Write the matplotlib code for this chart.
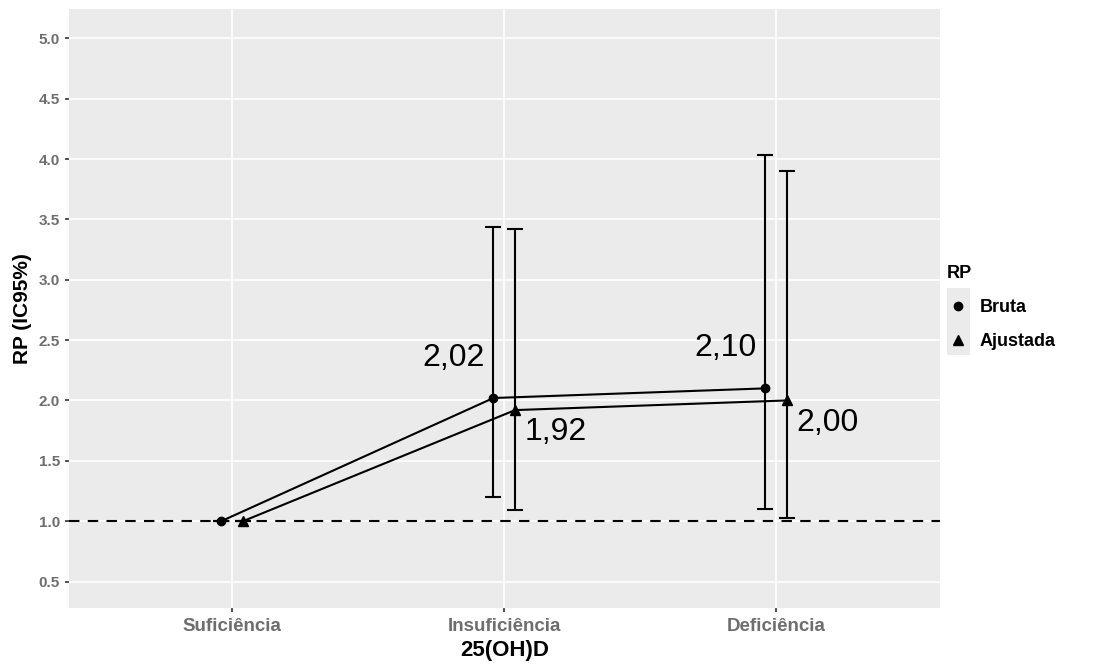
import numpy as np
import matplotlib
matplotlib.use("Agg")
import matplotlib.pyplot as plt
from matplotlib.patches import Rectangle

plt.rcParams["font.family"] = ["Liberation Sans", "DejaVu Sans"]

# ---------------------------------------------------------------------------
# Data
# ---------------------------------------------------------------------------
categories = ["Suficiência", "Insuficiência", "Deficiência"]

bruta_rp = [1.00, 2.02, 2.10]
bruta_lo = [1.00, 1.20, 1.10]
bruta_hi = [1.00, 3.44, 4.03]

ajust_rp = [1.00, 1.92, 2.00]
ajust_lo = [1.00, 1.09, 1.03]
ajust_hi = [1.00, 3.42, 3.90]

bruta_labels = ["", "2,02", "2,10"]
ajust_labels = ["", "1,92", "2,00"]

yticks = [0.5, 1.0, 1.5, 2.0, 2.5, 3.0, 3.5, 4.0, 4.5, 5.0]

# ---------------------------------------------------------------------------
# Plot
# ---------------------------------------------------------------------------
fig = plt.figure(figsize=(10.95, 6.66), dpi=100)
ax = fig.add_axes([0.063, 0.087, 0.795, 0.899])
ax.set_facecolor("#ebebeb")

x = np.arange(1, len(categories) + 1)
dodge = 0.04
xb = x - dodge
xa = x + dodge

# grid
for yv in yticks:
    ax.axhline(yv, color="white", linewidth=1.2, zorder=0)
for xv in x:
    ax.axvline(xv, color="white", linewidth=1.2, zorder=0)

ax.axhline(1.0, color="black", linewidth=1.5, linestyle=(0, (5, 4)), zorder=1)

b_err = [np.array(bruta_rp) - np.array(bruta_lo), np.array(bruta_hi) - np.array(bruta_rp)]
a_err = [np.array(ajust_rp) - np.array(ajust_lo), np.array(ajust_hi) - np.array(ajust_rp)]

ax.errorbar(xb, bruta_rp, yerr=b_err, fmt="none", ecolor="black",
            elinewidth=1.5, capsize=5.5, capthick=1.5, zorder=2)
ax.errorbar(xa, ajust_rp, yerr=a_err, fmt="none", ecolor="black",
            elinewidth=1.5, capsize=5.5, capthick=1.5, zorder=2)

ax.plot(xb, bruta_rp, color="black", linewidth=1.5, marker="o",
        markersize=6, zorder=3, label="Bruta")
ax.plot(xa, ajust_rp, color="black", linewidth=1.5, marker="^",
        markersize=6.5, zorder=3, label="Ajustada")

for xi, yi, lab in zip(xb, bruta_rp, bruta_labels):
    if lab:
        ax.annotate(lab, (xi, yi), xytext=(-29, 29), textcoords="offset points",
                    ha="center", va="center", fontsize=23)
for xi, yi, lab in zip(xa, ajust_rp, ajust_labels):
    if lab:
        ax.annotate(lab, (xi, yi), xytext=(29, -16), textcoords="offset points",
                    ha="center", va="center", fontsize=23)

ax.set_xlim(0.4, 3.6)
ax.set_ylim(0.28, 5.24)
ax.set_xticks(x)
ax.set_xticklabels(categories)
ax.set_yticks(yticks)
ax.set_yticklabels([f"{v:.1f}" for v in yticks])

for s in ax.spines.values():
    s.set_visible(False)

ax.tick_params(axis="both", colors="#333333", length=3, width=1.2)
ax.tick_params(axis="x", pad=4)
for lab in ax.get_xticklabels():
    lab.set_fontsize(13.5)
    lab.set_fontweight("bold")
    lab.set_color("#6e6e6e")
for lab in ax.get_yticklabels():
    lab.set_fontsize(11)
    lab.set_fontweight("bold")
    lab.set_color("#6e6e6e")

ax.set_xlabel("25(OH)D", fontsize=16, fontweight="bold", labelpad=4)
ax.set_ylabel("RP (IC95%)", fontsize=15, fontweight="bold", labelpad=5)

# grey key boxes behind legend markers (ggplot style)
for yb in (0.517, 0.467):
    fig.patches.append(Rectangle((0.865, yb), 0.021, 0.05,
                                 transform=fig.transFigure,
                                 facecolor="#ebebeb", edgecolor="none",
                                 zorder=0))

leg = fig.legend(loc="upper left", bbox_to_anchor=(0.850, 0.627), frameon=False,
                 title="RP", fontsize=13, title_fontsize=13, handlelength=1.2,
                 handletextpad=0.6, labelspacing=0.95, alignment="left")
leg.get_title().set_fontweight("bold")
for t in leg.get_texts():
    t.set_fontweight("bold")
for h in leg.legend_handles:
    h.set_linestyle("none")

fig.savefig("out.png", dpi=100)
